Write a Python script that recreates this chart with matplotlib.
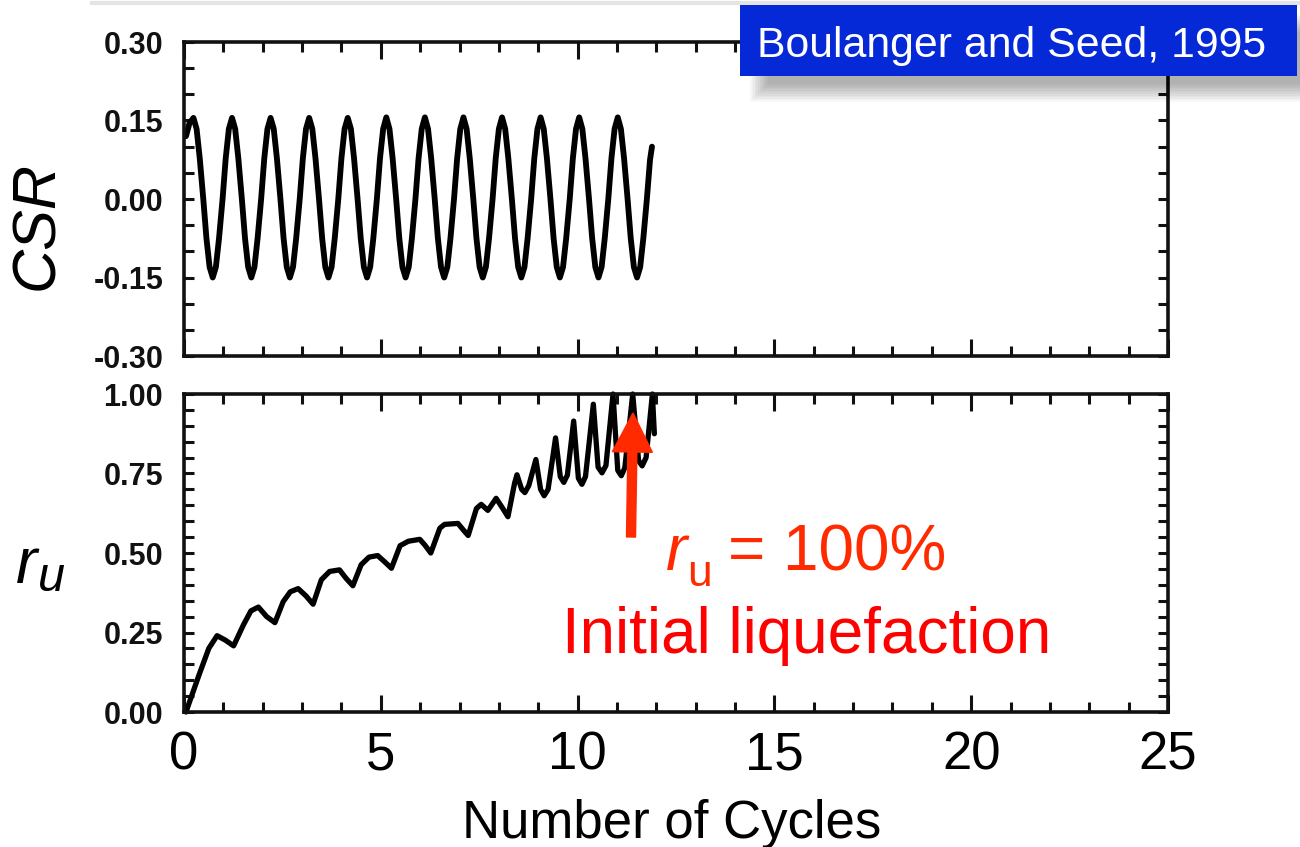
import numpy as np
import matplotlib.pyplot as plt
from matplotlib.patches import Rectangle, FancyArrow
from matplotlib.lines import Line2D
from matplotlib.ticker import MultipleLocator, FixedLocator, FixedFormatter

plt.rcParams['font.family'] = ['Liberation Sans', 'DejaVu Sans']

W, H = 1300, 847

# cyclic stress ratio (cycle, CSR)
csr_t = [0.05, 0.14,
         0.24, 0.32, 0.40, 0.49, 0.57, 0.65, 0.73, 0.81, 0.89, 0.98, 1.06, 1.14,
         1.22, 1.30, 1.38, 1.47, 1.55, 1.63, 1.71, 1.79, 1.87, 1.96, 2.04, 2.12,
         2.20, 2.28, 2.36, 2.45, 2.53, 2.61, 2.69, 2.77, 2.85, 2.94, 3.02, 3.10,
         3.18, 3.26, 3.34, 3.43, 3.51, 3.59, 3.67, 3.75, 3.83, 3.92, 4.00, 4.08,
         4.16, 4.24, 4.32, 4.41, 4.49, 4.57, 4.65, 4.73, 4.81, 4.90, 4.98, 5.06,
         5.14, 5.22, 5.30, 5.39, 5.47, 5.55, 5.63, 5.71, 5.79, 5.88, 5.96, 6.04,
         6.12, 6.20, 6.28, 6.37, 6.45, 6.53, 6.61, 6.69, 6.77, 6.86, 6.94, 7.02,
         7.10, 7.18, 7.26, 7.35, 7.43, 7.51, 7.59, 7.67, 7.75, 7.84, 7.92, 8.00,
         8.08, 8.16, 8.24, 8.33, 8.41, 8.49, 8.57, 8.65, 8.73, 8.82, 8.90, 8.98,
         9.06, 9.14, 9.22, 9.31, 9.39, 9.47, 9.55, 9.63, 9.71, 9.80, 9.88, 9.96,
         10.04, 10.12, 10.20, 10.29, 10.37, 10.45, 10.53, 10.61, 10.69, 10.78, 10.86, 10.94,
         11.02, 11.10, 11.18, 11.27, 11.35, 11.43, 11.51, 11.59, 11.67, 11.76, 11.84, 11.89]
csr_v = [0.120, 0.145,
         0.155, 0.134, 0.078, 0.000, -0.075, -0.130, -0.150, -0.130, -0.075, 0.000, 0.078, 0.134,
         0.155, 0.134, 0.078, 0.000, -0.075, -0.130, -0.150, -0.130, -0.075, 0.000, 0.078, 0.134,
         0.155, 0.134, 0.078, 0.000, -0.075, -0.130, -0.150, -0.130, -0.075, 0.000, 0.078, 0.134,
         0.155, 0.134, 0.078, 0.000, -0.075, -0.130, -0.150, -0.130, -0.075, 0.000, 0.078, 0.134,
         0.155, 0.134, 0.078, 0.000, -0.075, -0.130, -0.150, -0.130, -0.075, 0.000, 0.078, 0.134,
         0.156, 0.134, 0.078, 0.000, -0.075, -0.130, -0.150, -0.130, -0.075, 0.000, 0.078, 0.134,
         0.156, 0.134, 0.078, 0.000, -0.075, -0.130, -0.150, -0.130, -0.075, 0.000, 0.078, 0.134,
         0.156, 0.134, 0.078, 0.000, -0.075, -0.130, -0.150, -0.130, -0.075, 0.000, 0.078, 0.134,
         0.156, 0.134, 0.078, 0.000, -0.075, -0.130, -0.150, -0.130, -0.075, 0.000, 0.078, 0.134,
         0.156, 0.134, 0.078, 0.000, -0.075, -0.130, -0.150, -0.130, -0.075, 0.000, 0.078, 0.134,
         0.156, 0.134, 0.078, 0.000, -0.075, -0.130, -0.150, -0.130, -0.075, 0.000, 0.078, 0.134,
         0.156, 0.134, 0.078, 0.000, -0.075, -0.130, -0.150, -0.130, -0.075, 0.000, 0.075, 0.100]

# excess pore pressure ratio
ru_t = [0.05, 0.38, 0.63, 0.84, 1.05, 1.26, 1.51, 1.70, 1.89, 2.10,
        2.31, 2.52, 2.70, 2.90, 3.10, 3.28, 3.49, 3.70, 3.95, 4.12,
        4.29, 4.50, 4.70, 4.92, 5.10, 5.27, 5.49, 5.70, 5.99, 6.12,
        6.27, 6.50, 6.62, 6.96, 7.10, 7.22, 7.43, 7.55, 7.72, 7.93,
        8.10, 8.23, 8.40, 8.46, 8.58, 8.66, 8.76, 8.94, 9.06, 9.15,
        9.25, 9.44, 9.56, 9.65, 9.74, 9.90, 10.02, 10.11, 10.20, 10.40,
        10.52, 10.62, 10.72, 10.90, 11.02, 11.11, 11.20, 11.40, 11.55, 11.64,
        11.74, 11.90, 11.95]
ru_v = [0.000, 0.116, 0.200, 0.240, 0.226, 0.208, 0.274, 0.318, 0.330, 0.300,
        0.281, 0.347, 0.378, 0.388, 0.365, 0.339, 0.416, 0.442, 0.447, 0.420,
        0.397, 0.463, 0.487, 0.492, 0.472, 0.452, 0.523, 0.537, 0.543, 0.525,
        0.500, 0.578, 0.590, 0.593, 0.572, 0.555, 0.640, 0.653, 0.634, 0.672,
        0.640, 0.614, 0.720, 0.746, 0.700, 0.690, 0.712, 0.794, 0.700, 0.680,
        0.700, 0.862, 0.740, 0.722, 0.745, 0.915, 0.735, 0.716, 0.740, 0.968,
        0.770, 0.752, 0.775, 1.000, 0.760, 0.743, 0.768, 1.000, 0.790, 0.774,
        0.800, 1.000, 0.875]

x_ticks = [0, 5, 10, 15, 20, 25]
x_ticklabels = ['0', '5', '10', '15', '20', '25']
csr_ticks = [-0.30, -0.15, 0.00, 0.15, 0.30]
csr_ticklabels = ['-0.30', '-0.15', '0.00', '0.15', '0.30']
ru_ticks = [0.00, 0.25, 0.50, 0.75, 1.00]
ru_ticklabels = ['0.00', '0.25', '0.50', '0.75', '1.00']


def fx(px):
    return px / W


def fy(py):
    return 1 - py / H


def style(ax, yticks, ylabels):
    ax.set_xlim(0, 25)
    ax.xaxis.set_major_locator(FixedLocator(x_ticks))
    ax.xaxis.set_minor_locator(MultipleLocator(1))
    ax.yaxis.set_major_locator(FixedLocator(yticks))
    ax.yaxis.set_major_formatter(FixedFormatter(ylabels))
    ax.yaxis.set_minor_locator(MultipleLocator(0.05))
    ax.tick_params(which='both', direction='in', top=True, right=True,
                   width=2.2, color='#111111')
    ax.tick_params(axis='x', which='major', length=12)
    ax.tick_params(axis='x', which='minor', length=7)
    ax.tick_params(axis='y', which='both', length=7)
    ax.tick_params(axis='y', labelsize=22, pad=15, labelcolor='#111111')
    for lab in ax.get_yticklabels():
        lab.set_fontweight('bold')
    for s in ax.spines.values():
        s.set_linewidth(2.6)
        s.set_color('#111111')


fig = plt.figure(figsize=(W / 100, H / 100), dpi=100)

ax1 = fig.add_axes([fx(184), fy(356), (1168 - 184) / W, (356 - 42) / H])
ax1.plot(csr_t, csr_v, color='black', lw=4.2, solid_joinstyle='round',
         solid_capstyle='round')
ax1.set_ylim(-0.30, 0.30)
style(ax1, csr_ticks, csr_ticklabels)
ax1.tick_params(labelbottom=False)

ax2 = fig.add_axes([fx(184), fy(712), (1168 - 184) / W, (712 - 394) / H])
ax2.plot(ru_t, ru_v, color='black', lw=3.8, solid_joinstyle='round',
         solid_capstyle='round', clip_on=False)
ax2.set_ylim(0, 1.0)
style(ax2, ru_ticks, ru_ticklabels)
ax2.set_xticklabels(x_ticklabels)
ax2.tick_params(axis='x', labelsize=38, pad=13, labelcolor='black')

# axis titles
fig.text(fx(672), fy(838), 'Number of Cycles', fontsize=38, ha='center', va='baseline')
fig.text(fx(38), fy(225), 'CSR', fontsize=44, style='italic', rotation=90,
         ha='center', va='center')
fig.text(fx(16), fy(583), 'r', fontsize=46, style='italic', ha='left', va='baseline')
fig.text(fx(38), fy(591), 'u', fontsize=35, style='italic', ha='left', va='baseline')

# annotation
orange_red = '#FF2A00'
fig.text(fx(666), fy(570), 'r', fontsize=46, style='italic', color=orange_red,
         ha='left', va='baseline')
fig.text(fx(687), fy(586), 'u', fontsize=32, color=orange_red, ha='left', va='baseline')
fig.text(fx(728), fy(570), '= 100%', fontsize=46, color=orange_red, ha='left',
         va='baseline')
fig.text(fx(807), fy(653), 'Initial liquefaction', fontsize=46, color='#FF0000',
         ha='center', va='baseline')
fig.add_artist(FancyArrow(6.31, (H - 537) / 100, 0.02, (537 - 413) / 100,
                          width=0.09, head_width=0.40, head_length=0.39,
                          length_includes_head=True, color=orange_red,
                          transform=fig.dpi_scale_trans, zorder=4))

# faint slide border at the top
fig.add_artist(Line2D([fx(92), fx(1300)], [fy(3), fy(3)], color='#e4e4e4', lw=3))

# citation box with soft shadow
for k in range(12):
    d = k * 1.6
    fig.add_artist(Rectangle((fx(750 + d), fy(102 - d)), (1300 - 750 - d) / W,
                             (102 - 14 - 2 * d) / H, transform=fig.transFigure,
                             facecolor='black', edgecolor='none', alpha=0.028,
                             zorder=5))
fig.add_artist(Rectangle((fx(740), fy(76)), (1297 - 740) / W, (76 - 5) / H,
                         transform=fig.transFigure, facecolor='#0529D6',
                         edgecolor='none', zorder=6))
fig.text(fx(757), fy(57), 'Boulanger and Seed, 1995', fontsize=30.8, color='white',
         ha='left', va='baseline', zorder=7)

fig.savefig('out.png', dpi=100)
